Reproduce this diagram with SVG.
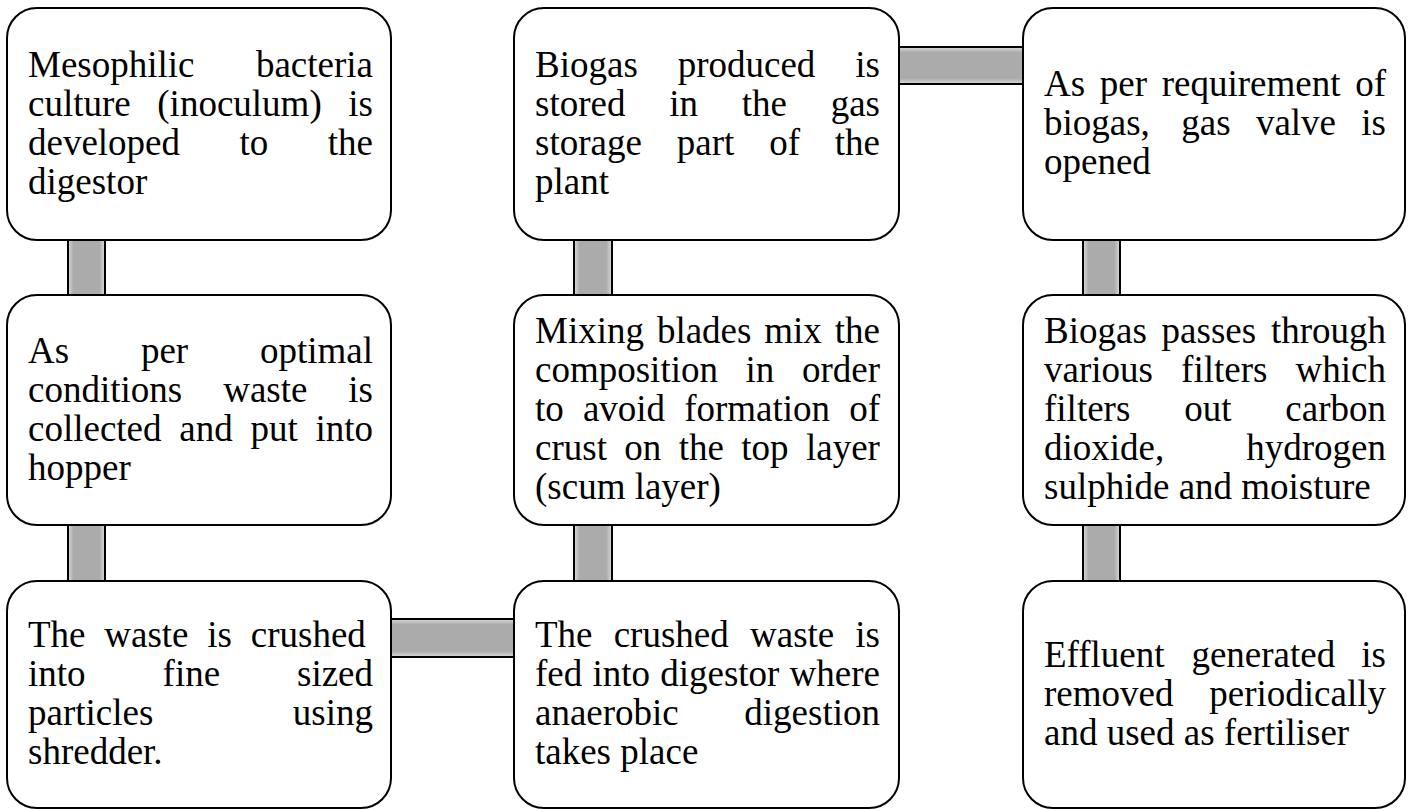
<svg xmlns="http://www.w3.org/2000/svg" width="1412" height="809" viewBox="0 0 1412 809">
<style>
.box{fill:#fff;stroke:#000;stroke-width:2}
.bar{stroke:#000;stroke-width:2}
.v{fill:url(#gv)}
.h{fill:url(#gh)}
.t{font-family:"Liberation Serif","Times New Roman",serif;font-size:37px;fill:#000}
</style>
<defs>
<linearGradient id="gv" x1="0" y1="0" x2="1" y2="0">
<stop offset="0" stop-color="#dcdcdc"/><stop offset="0.15" stop-color="#ababab"/><stop offset="0.85" stop-color="#ababab"/><stop offset="1" stop-color="#dcdcdc"/>
</linearGradient>
<linearGradient id="gh" x1="0" y1="0" x2="0" y2="1">
<stop offset="0" stop-color="#dcdcdc"/><stop offset="0.15" stop-color="#ababab"/><stop offset="0.85" stop-color="#ababab"/><stop offset="1" stop-color="#dcdcdc"/>
</linearGradient>
</defs>
<g id="connectors">
<rect class="bar v" x="68" y="240" width="37" height="55"/>
<rect class="bar v" x="68" y="525" width="37" height="56"/>
<rect class="bar v" x="574" y="240" width="38" height="55"/>
<rect class="bar v" x="574" y="525" width="38" height="56"/>
<rect class="bar v" x="1083" y="240" width="37" height="55"/>
<rect class="bar v" x="1083" y="525" width="37" height="56"/>
<rect class="bar h" x="391" y="619" width="123" height="38"/>
<rect class="bar h" x="899" y="47" width="124" height="37"/>
</g>
<g id="n1">
<rect class="box" x="7" y="8" width="384" height="232" rx="30"/>
<text class="t" y="76.5"><tspan x="28">Mesophilic</tspan><tspan x="255.9">bacteria</tspan></text>
<text class="t" y="115.5"><tspan x="28">culture</tspan><tspan x="157.3">(inoculum)</tspan><tspan x="348.3">is</tspan></text>
<text class="t" y="154.5"><tspan x="28">developed</tspan><tspan x="239.6">to</tspan><tspan x="327.8">the</tspan></text>
<text class="t" y="193.5"><tspan x="28">digestor</tspan></text>
</g>
<g id="n2">
<rect class="box" x="7" y="295" width="384" height="230" rx="30"/>
<text class="t" y="362.5"><tspan x="28">As</tspan><tspan x="140.9">per</tspan><tspan x="259.9">optimal</tspan></text>
<text class="t" y="401.5"><tspan x="28">conditions</tspan><tspan x="223.2">waste</tspan><tspan x="348.3">is</tspan></text>
<text class="t" y="440.5"><tspan x="28">collected</tspan><tspan x="179.3">and</tspan><tspan x="250.4">put</tspan><tspan x="315.4">into</tspan></text>
<text class="t" y="479.5"><tspan x="28">hopper</tspan></text>
</g>
<g id="n3">
<rect class="box" x="7" y="581" width="384" height="227" rx="30"/>
<text class="t" y="647"><tspan x="28">The</tspan><tspan x="104.3">waste</tspan><tspan x="207.3">is</tspan><tspan x="250.8">crushed</tspan></text>
<text class="t" y="686"><tspan x="28">into</tspan><tspan x="162.6">fine</tspan><tspan x="297">sized</tspan></text>
<text class="t" y="725"><tspan x="28">particles</tspan><tspan x="292.8">using</tspan></text>
<text class="t" y="764"><tspan x="28">shredder.</tspan></text>
</g>
<g id="n4">
<rect class="box" x="514" y="8" width="385" height="232" rx="30"/>
<text class="t" y="76.5"><tspan x="535">Biogas</tspan><tspan x="677.7">produced</tspan><tspan x="855.3">is</tspan></text>
<text class="t" y="115.5"><tspan x="535">stored</tspan><tspan x="669.2">in</tspan><tspan x="741.8">the</tspan><tspan x="830.7">gas</tspan></text>
<text class="t" y="154.5"><tspan x="535">storage</tspan><tspan x="676.8">part</tspan><tspan x="769.2">of</tspan><tspan x="834.8">the</tspan></text>
<text class="t" y="193.5"><tspan x="535">plant</tspan></text>
</g>
<g id="n5">
<rect class="box" x="514" y="295" width="385" height="230" rx="30"/>
<text class="t" y="343"><tspan x="535">Mixing</tspan><tspan x="656.9">blades</tspan><tspan x="764.3">mix</tspan><tspan x="834.8">the</tspan></text>
<text class="t" y="382"><tspan x="535">composition</tspan><tspan x="745.6">in</tspan><tspan x="801.9">order</tspan></text>
<text class="t" y="421"><tspan x="535">to</tspan><tspan x="582.9">avoid</tspan><tspan x="684.2">formation</tspan><tspan x="849.2">of</tspan></text>
<text class="t" y="460"><tspan x="535">crust</tspan><tspan x="624.3">on</tspan><tspan x="678.7">the</tspan><tspan x="741.3">top</tspan><tspan x="806">layer</tspan></text>
<text class="t" y="499"><tspan x="535">(scum layer)</tspan></text>
</g>
<g id="n6">
<rect class="box" x="514" y="581" width="385" height="227" rx="30"/>
<text class="t" y="647"><tspan x="535">The</tspan><tspan x="613.7">crushed</tspan><tspan x="750">waste</tspan><tspan x="855.3">is</tspan></text>
<text class="t" y="686"><tspan x="535">fed</tspan><tspan x="592.4">into</tspan><tspan x="660.2">digestor</tspan><tspan x="789.6">where</tspan></text>
<text class="t" y="725"><tspan x="535">anaerobic</tspan><tspan x="744.3">digestion</tspan></text>
<text class="t" y="764"><tspan x="535">takes place</tspan></text>
</g>
<g id="n7">
<rect class="box" x="1023" y="8" width="382" height="232" rx="30"/>
<text class="t" y="96"><tspan x="1044">As</tspan><tspan x="1099.8">per</tspan><tspan x="1161.7">requirement</tspan><tspan x="1355.2">of</tspan></text>
<text class="t" y="135"><tspan x="1044">biogas,</tspan><tspan x="1181.3">gas</tspan><tspan x="1255.9">valve</tspan><tspan x="1361.3">is</tspan></text>
<text class="t" y="174"><tspan x="1044">opened</tspan></text>
</g>
<g id="n8">
<rect class="box" x="1023" y="295" width="382" height="230" rx="30"/>
<text class="t" y="343"><tspan x="1044">Biogas</tspan><tspan x="1161.6">passes</tspan><tspan x="1270.9">through</tspan></text>
<text class="t" y="382"><tspan x="1044">various</tspan><tspan x="1181.1">filters</tspan><tspan x="1295.6">which</tspan></text>
<text class="t" y="421"><tspan x="1044">filters</tspan><tspan x="1184.2">out</tspan><tspan x="1285.3">carbon</tspan></text>
<text class="t" y="460"><tspan x="1044">dioxide,</tspan><tspan x="1246.3">hydrogen</tspan></text>
<text class="t" y="499"><tspan x="1044">sulphide and moisture</tspan></text>
</g>
<g id="n9">
<rect class="box" x="1023" y="581" width="382" height="227" rx="30"/>
<text class="t" y="666.5"><tspan x="1044">Effluent</tspan><tspan x="1191.4">generated</tspan><tspan x="1361.3">is</tspan></text>
<text class="t" y="705.5"><tspan x="1044">removed</tspan><tspan x="1209.3">periodically</tspan></text>
<text class="t" y="744.5"><tspan x="1044">and used as fertiliser</tspan></text>
</g>
</svg>
